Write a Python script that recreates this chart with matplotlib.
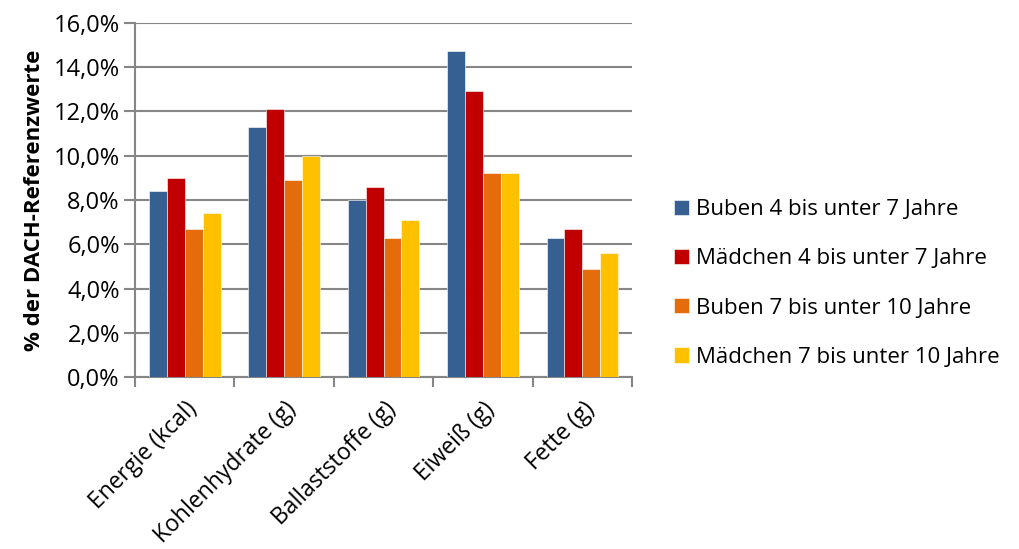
import matplotlib
matplotlib.use("Agg")
import matplotlib.pyplot as plt
import numpy as np
from matplotlib.ticker import FuncFormatter, FixedLocator

plt.rcParams['font.family'] = ['Open Sans', 'DejaVu Sans']

categories = ["Energie (kcal)", "Kohlenhydrate (g)", "Ballaststoffe (g)", "Eiweiß (g)", "Fette (g)"]
series_names = ["Buben 4 bis unter 7 Jahre", "Mädchen 4 bis unter 7 Jahre",
                "Buben 7 bis unter 10 Jahre", "Mädchen 7 bis unter 10 Jahre"]
buben_4_7 = [8.4, 11.3, 8.0, 14.7, 6.3]
maedchen_4_7 = [9.0, 12.1, 8.6, 12.9, 6.7]
buben_7_10 = [6.7, 8.9, 6.3, 9.2, 4.9]
maedchen_7_10 = [7.4, 10.0, 7.1, 9.2, 5.6]
series = [buben_4_7, maedchen_4_7, buben_7_10, maedchen_7_10]
colors = ["#376092", "#C00000", "#E46C0A", "#FFC000"]

fig = plt.figure(figsize=(10.2, 5.49), dpi=100)
ax = fig.add_axes([0.1324, 0.3124, 0.4873, 0.6466])

x = np.arange(len(categories))
bw = 0.18
for i, (vals, c, name) in enumerate(zip(series, colors, series_names)):
    ax.bar(x + (i - 1.5) * bw, vals, width=bw, color=c, label=name,
           edgecolor='white', linewidth=0.4, zorder=3)

ax.set_xlim(-0.5, len(categories) - 0.5)
ax.set_ylim(0, 16)
ax.set_yticks(np.arange(0, 16.1, 2))
ax.yaxis.set_major_formatter(FuncFormatter(lambda v, p: f"{v:.1f}%".replace('.', ',')))
ax.grid(axis='y', color='#868686', linewidth=1.5, zorder=0)
ax.set_axisbelow(True)

ax.set_xticks(x)
ax.set_xticklabels(categories, rotation=45, ha='right', rotation_mode='anchor', fontsize=16.5)
ax.xaxis.set_minor_locator(FixedLocator(np.arange(-0.5, len(categories), 1.0)))
ax.tick_params(axis='x', which='major', length=0, pad=14)
ax.tick_params(axis='x', which='minor', length=7, width=1.5, color='#868686')
ax.tick_params(axis='y', length=8, width=1.5, color='#868686', labelsize=17, pad=3)

for s in ['top', 'right']:
    ax.spines[s].set_visible(False)
for s in ['left', 'bottom']:
    ax.spines[s].set_color('#868686')
    ax.spines[s].set_linewidth(1.5)

ax.set_ylabel("% der DACH-Referenzwerte", fontsize=16, fontweight='bold', labelpad=6)

leg = fig.legend(loc='center left', bbox_to_anchor=(0.641, 0.4836), frameon=False,
                 fontsize=16, handlelength=0.68, handleheight=0.68, labelspacing=1.27,
                 handletextpad=0.32)

fig.savefig("out.png", dpi=100)
